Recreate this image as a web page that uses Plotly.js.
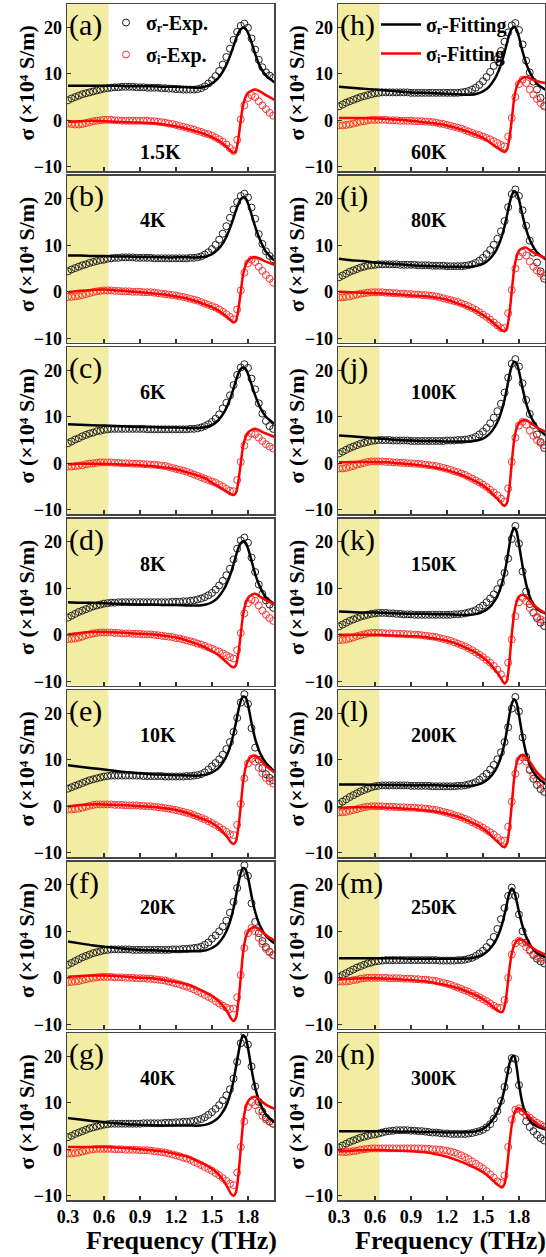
<!DOCTYPE html>
<html><head><meta charset="utf-8">
<script src="https://cdn.plot.ly/plotly-3.0.1.min.js"></script>
<style>html,body{margin:0;padding:0;background:#fff}#chart{width:546px;height:1257px}</style>
</head><body><div id="chart"></div>
<script>
// ---------- data ----------
const freqExp = [0.30,0.33,0.36,0.39,0.42,0.45,0.48,0.51,0.54,0.57,0.60,0.63,0.66,0.69,0.72,0.75,0.78,0.81,0.84,0.87,0.90,0.93,0.96,0.99,1.02,1.05,1.08,1.11,1.14,1.17,1.20,1.23,1.26,1.29,1.32,1.35,1.38,1.41,1.44,1.47,1.50,1.53,1.56,1.59,1.62,1.65,1.68,1.71,1.74,1.77,1.80,1.83,1.86,1.89,1.92,1.95,1.98,2.01];
const freqFit = [0.30,0.40,0.50,0.60,0.70,0.80,0.90,1.00,1.10,1.20,1.30,1.40,1.45,1.50,1.55,1.60,1.63,1.66,1.68,1.70,1.72,1.74,1.76,1.78,1.80,1.83,1.86,1.90,1.95,2.02];
const panelLetters = ['(a)','(b)','(c)','(d)','(e)','(f)','(g)','(h)','(i)','(j)','(k)','(l)','(m)','(n)'];
const temperatures = ['1.5K','4K','6K','8K','10K','20K','40K','60K','80K','100K','150K','200K','250K','300K'];
const xTickVals = [0.3,0.6,0.9,1.2,1.5,1.8];
const yTickVals = [-10,0,10,20];
const legendNames = ['σᵣ-Exp.','σᵢ-Exp.','σᵣ-Fitting','σᵢ-Fitting'];
const yTitleText = 'σ (×10⁴ S/m)';
const xTitleText = 'Frequency (THz)';

// (a) 1.5K
const srExpA = [4.3,4.7,5.0,5.3,5.6,5.8,6.0,6.2,6.4,6.6,6.8,6.9,7.0,7.1,7.1,7.2,7.2,7.2,7.2,7.1,7.1,7.1,7.0,7.0,7.0,7.0,6.9,6.9,6.8,6.8,6.7,6.7,6.6,6.6,6.6,6.6,6.7,6.9,7.3,7.9,8.6,9.5,10.6,12.0,13.6,15.4,17.3,19.0,20.3,20.8,19.9,17.6,15.2,13.0,11.4,10.3,9.6,9.1];
const srFitA = [7.4,7.4,7.4,7.4,7.4,7.3,7.3,7.3,7.2,7.2,7.1,7.0,7.3,7.9,9.0,10.9,12.5,14.5,16.0,17.5,18.8,19.6,19.9,19.7,18.8,16.7,14.3,11.6,9.6,8.2];
const siExpA = [-0.7,-0.8,-0.9,-0.9,-0.8,-0.6,-0.4,-0.2,-0.1,0.0,0.1,0.1,0.1,0.0,0.0,-0.1,-0.1,-0.1,-0.1,-0.1,-0.1,-0.1,-0.1,-0.2,-0.2,-0.3,-0.4,-0.5,-0.7,-0.8,-1.0,-1.2,-1.4,-1.6,-1.8,-2.0,-2.3,-2.5,-2.8,-3.0,-3.3,-3.7,-4.1,-4.6,-5.2,-6.0,-6.6,-4.2,0.2,3.2,4.8,5.4,5.0,4.1,3.2,2.4,1.6,1.0];
const siFitA = [-0.3,-0.2,-0.1,-0.2,-0.3,-0.4,-0.5,-0.6,-0.9,-1.3,-1.9,-2.6,-3.1,-3.6,-4.3,-5.2,-5.9,-6.7,-7.0,-6.5,-4.0,0.0,3.3,5.0,5.9,6.4,6.6,6.2,5.4,4.4];
// (b) 4K
const srExpB = [4.4,4.8,5.1,5.4,5.7,5.9,6.2,6.4,6.6,6.8,6.9,7.1,7.2,7.3,7.3,7.4,7.4,7.4,7.4,7.3,7.3,7.3,7.3,7.3,7.2,7.2,7.2,7.2,7.2,7.2,7.2,7.2,7.2,7.2,7.3,7.3,7.4,7.6,8.0,8.5,9.2,10.1,11.2,12.5,14.1,15.9,17.7,19.3,20.6,21.1,20.3,18.1,15.7,12.4,10.3,8.7,7.7,7.0];
const srFitB = [7.8,7.8,7.7,7.7,7.6,7.6,7.5,7.5,7.4,7.4,7.4,7.4,7.6,8.1,9.1,10.8,12.4,14.4,15.9,17.5,18.9,19.9,20.3,20.1,19.0,16.6,14.0,11.2,8.6,6.7];
const siExpB = [-1.1,-1.1,-1.0,-0.9,-0.7,-0.5,-0.3,-0.1,0.1,0.2,0.3,0.3,0.3,0.2,0.2,0.1,0.1,0.1,0.0,0.0,0.0,-0.1,-0.1,-0.1,-0.2,-0.3,-0.4,-0.5,-0.6,-0.7,-0.8,-1.0,-1.1,-1.3,-1.5,-1.7,-1.9,-2.2,-2.5,-2.8,-3.1,-3.4,-3.8,-4.3,-4.8,-5.4,-5.9,-3.8,0.3,4.1,6.1,6.9,6.4,5.4,4.5,3.6,2.8,2.0];
const siFitB = [-0.1,0.2,0.4,0.5,0.3,0.1,-0.1,-0.3,-0.6,-1.0,-1.5,-2.3,-2.8,-3.3,-4.0,-4.9,-5.5,-6.2,-6.6,-6.2,-3.8,0.0,3.7,5.7,6.7,7.3,7.5,7.1,6.5,5.8];
// (c) 6K
const srExpC = [4.3,4.7,5.1,5.4,5.8,6.1,6.4,6.6,6.9,7.0,7.2,7.3,7.4,7.4,7.4,7.4,7.4,7.4,7.4,7.4,7.4,7.4,7.3,7.3,7.3,7.3,7.3,7.3,7.3,7.3,7.3,7.3,7.3,7.3,7.4,7.4,7.5,7.7,8.0,8.4,8.9,9.6,10.5,11.8,13.0,14.6,16.8,19.0,20.6,21.3,20.5,18.2,15.9,12.9,10.7,9.1,8.0,7.4];
const srFitC = [8.4,8.3,8.2,8.1,8.0,7.9,7.8,7.8,7.7,7.7,7.6,7.6,7.8,8.2,9.2,10.9,12.5,14.5,16.1,17.8,19.3,20.3,20.6,20.3,19.2,16.9,14.6,12.1,10.0,8.5];
const siExpC = [-0.7,-0.7,-0.6,-0.5,-0.4,-0.2,-0.1,0.0,0.1,0.2,0.2,0.2,0.2,0.1,0.1,0.0,0.0,0.0,-0.1,-0.1,-0.1,-0.2,-0.2,-0.3,-0.3,-0.4,-0.5,-0.6,-0.8,-1.0,-1.2,-1.4,-1.6,-1.8,-2.1,-2.4,-2.7,-3.0,-3.3,-3.6,-3.9,-4.2,-4.6,-5.0,-5.5,-5.9,-6.0,-3.6,0.3,3.8,5.7,6.4,6.2,5.5,4.8,4.1,3.6,3.2];
const siFitC = [-0.2,-0.1,-0.1,-0.1,-0.2,-0.3,-0.4,-0.6,-0.9,-1.3,-2.0,-2.8,-3.3,-4.2,-4.9,-5.7,-6.2,-6.7,-6.8,-6.3,-3.9,0.0,3.7,5.6,6.6,7.2,7.4,7.0,6.4,5.7];
// (d) 8K
const srExpD = [3.7,4.1,4.5,4.9,5.2,5.5,5.8,6.1,6.3,6.5,6.7,6.8,6.9,6.9,7.0,7.0,7.0,7.0,7.0,7.0,7.0,7.0,7.0,7.0,7.0,7.0,7.0,7.0,7.0,7.1,7.1,7.1,7.2,7.2,7.3,7.4,7.6,7.8,8.1,8.5,9.0,9.7,10.6,11.6,12.8,14.2,16.2,18.5,20.3,20.9,19.8,16.6,13.5,10.8,8.8,7.4,6.5,5.8];
const srFitD = [7.0,6.9,6.9,6.8,6.7,6.6,6.5,6.5,6.4,6.4,6.3,6.3,6.5,7.0,8.0,9.8,11.4,13.5,15.2,17.0,18.6,19.7,20.1,19.8,18.6,15.9,13.1,10.3,8.0,6.6];
const siExpD = [-0.9,-0.9,-0.8,-0.6,-0.4,-0.1,0.1,0.3,0.4,0.5,0.5,0.5,0.5,0.4,0.4,0.3,0.3,0.3,0.2,0.2,0.2,0.1,0.1,0.1,0.0,-0.1,-0.2,-0.3,-0.4,-0.5,-0.7,-0.8,-1.0,-1.2,-1.4,-1.6,-1.9,-2.1,-2.4,-2.7,-3.0,-3.3,-3.6,-4.0,-4.4,-4.8,-5.1,-3.3,0.4,4.6,6.8,7.6,7.3,6.3,5.2,4.3,3.6,3.0];
const siFitD = [0.1,0.4,0.6,0.6,0.5,0.4,0.2,0.1,-0.2,-0.6,-1.3,-2.2,-2.8,-3.5,-4.3,-5.4,-6.1,-6.8,-7.0,-6.5,-4.0,0.1,4.4,6.7,7.9,8.6,8.8,8.2,7.4,6.6];
// (e) 10K
const srExpE = [3.8,4.1,4.4,4.7,5.0,5.3,5.6,5.8,6.0,6.2,6.4,6.5,6.6,6.6,6.6,6.6,6.6,6.6,6.6,6.6,6.6,6.5,6.5,6.5,6.5,6.5,6.5,6.4,6.4,6.4,6.4,6.4,6.4,6.5,6.5,6.6,6.7,6.9,7.3,7.9,8.6,9.3,10.1,11.1,12.3,13.8,16.0,19.0,22.3,24.1,22.0,16.8,12.6,10.0,8.2,6.9,6.1,5.6];
const srFitE = [8.8,8.5,8.2,7.9,7.6,7.3,7.1,6.9,6.8,6.7,6.6,6.6,6.8,7.3,8.1,9.8,11.3,13.6,15.6,18.0,20.6,22.6,23.6,23.4,21.8,17.9,14.5,11.5,9.3,7.5];
const siExpE = [-0.7,-0.7,-0.6,-0.5,-0.3,-0.1,0.1,0.3,0.4,0.4,0.4,0.4,0.4,0.3,0.3,0.3,0.2,0.2,0.2,0.2,0.1,0.1,0.0,0.0,-0.1,-0.2,-0.3,-0.4,-0.5,-0.7,-0.8,-1.0,-1.2,-1.4,-1.6,-1.9,-2.2,-2.5,-2.8,-3.2,-3.6,-4.0,-4.5,-5.0,-5.5,-6.0,-6.2,-4.0,0.5,6.0,9.2,10.2,9.6,8.3,7.1,6.1,5.4,4.9];
const siFitE = [0.0,0.3,0.4,0.4,0.3,0.2,0.0,-0.1,-0.4,-0.8,-1.5,-2.5,-3.0,-3.6,-4.5,-5.8,-6.7,-7.8,-8.1,-7.5,-4.6,0.1,5.3,8.3,9.8,10.7,10.9,10.1,8.7,7.3];
// (f) 20K
const srExpF = [2.8,3.2,3.6,4.0,4.4,4.7,5.0,5.3,5.5,5.7,5.9,6.0,6.1,6.1,6.1,6.1,6.1,6.1,6.0,6.0,6.0,6.0,6.0,6.0,6.0,6.0,6.0,6.0,6.0,6.1,6.1,6.1,6.2,6.2,6.3,6.4,6.5,6.7,7.1,7.6,8.4,9.1,10.0,11.0,12.3,14.0,16.3,19.3,22.5,24.2,21.9,16.0,12.0,9.6,7.9,6.6,5.6,4.9];
const srFitF = [7.8,7.4,7.0,6.7,6.4,6.2,6.0,5.9,5.8,5.7,5.7,5.7,5.9,6.4,7.3,9.0,10.6,12.9,15.0,17.6,20.3,22.5,23.6,23.3,21.6,17.6,14.2,11.2,9.0,7.4];
const siExpF = [-0.9,-0.9,-0.8,-0.7,-0.5,-0.3,-0.1,0.0,0.1,0.2,0.2,0.2,0.2,0.1,0.1,0.1,0.0,0.0,0.0,-0.1,-0.1,-0.1,-0.2,-0.2,-0.3,-0.4,-0.5,-0.6,-0.8,-1.0,-1.2,-1.4,-1.7,-1.9,-2.2,-2.5,-2.9,-3.3,-3.7,-4.1,-4.5,-5.0,-5.5,-6.0,-6.4,-6.7,-6.6,-4.2,0.6,6.4,9.6,10.7,10.0,8.6,7.3,6.2,5.5,4.9];
const siFitF = [0.2,0.4,0.5,0.5,0.4,0.2,0.0,-0.1,-0.5,-0.9,-1.5,-2.6,-3.2,-3.9,-4.9,-6.3,-7.4,-8.8,-9.3,-8.6,-5.2,0.1,5.5,8.5,9.9,10.7,10.9,10.3,9.2,8.0];
// (g) 40K
const srExpG = [2.6,2.9,3.3,3.6,3.9,4.2,4.5,4.7,4.9,5.1,5.3,5.4,5.5,5.5,5.5,5.5,5.5,5.5,5.5,5.5,5.5,5.6,5.6,5.6,5.6,5.6,5.6,5.7,5.7,5.7,5.8,5.8,5.9,5.9,6.0,6.1,6.3,6.5,6.9,7.4,8.0,8.7,9.5,10.5,11.6,12.9,15.2,18.8,22.8,24.8,22.5,17.8,13.5,10.2,8.1,6.8,6.0,5.5];
const srFitG = [6.7,6.4,6.1,5.8,5.6,5.4,5.3,5.2,5.1,5.1,5.1,5.1,5.3,5.8,6.7,8.4,10.1,12.6,14.8,17.7,20.6,23.2,24.5,24.0,21.8,17.2,13.3,9.9,7.5,5.8];
const siExpG = [-0.9,-0.9,-0.8,-0.7,-0.5,-0.3,-0.1,0.0,0.1,0.1,0.1,0.1,0.1,0.0,0.0,0.0,-0.1,-0.1,-0.1,-0.1,-0.2,-0.2,-0.2,-0.3,-0.4,-0.5,-0.6,-0.7,-0.9,-1.1,-1.3,-1.5,-1.8,-2.0,-2.3,-2.7,-3.0,-3.4,-3.8,-4.2,-4.6,-5.1,-5.6,-6.2,-6.8,-7.4,-7.7,-5.0,0.5,6.0,9.1,10.1,9.5,8.3,7.2,6.4,5.9,5.5];
const siFitG = [0.5,0.5,0.5,0.5,0.4,0.2,0.0,-0.2,-0.5,-1.0,-1.6,-2.8,-3.4,-4.2,-5.3,-6.9,-8.2,-9.6,-10.0,-9.2,-5.6,0.1,5.7,8.9,10.3,11.1,11.3,10.6,9.6,8.7];
// (h) 60K
const srExpH = [3.0,3.4,3.8,4.1,4.4,4.7,5.0,5.2,5.4,5.6,5.8,5.9,6.0,6.0,6.0,6.0,6.0,6.0,6.0,6.0,5.9,5.9,5.9,5.9,5.9,5.9,5.9,5.9,5.9,5.9,5.9,5.9,5.9,5.9,6.0,6.1,6.3,6.6,7.0,7.6,8.4,9.3,10.4,11.7,13.2,14.9,16.9,18.9,20.4,20.9,19.4,16.3,12.8,10.3,8.3,6.6,4.8,3.1];
const srFitH = [7.2,7.0,6.8,6.6,6.4,6.2,6.0,5.9,5.8,5.7,5.6,5.5,5.7,6.2,7.2,9.0,10.6,12.8,14.6,16.6,18.5,19.7,20.1,19.5,17.9,14.8,12.2,9.8,7.9,6.6];
const siExpH = [-1.1,-1.1,-1.0,-0.9,-0.7,-0.5,-0.3,-0.2,0.0,0.1,0.1,0.1,0.1,0.1,0.0,0.0,0.0,-0.1,-0.1,-0.1,-0.1,-0.2,-0.2,-0.2,-0.3,-0.3,-0.4,-0.5,-0.7,-0.8,-1.0,-1.2,-1.4,-1.6,-1.8,-2.1,-2.4,-2.7,-3.0,-3.2,-3.5,-3.8,-4.1,-4.5,-4.9,-5.3,-5.6,-3.5,0.5,5.0,7.8,8.7,8.0,6.6,5.5,4.6,3.7,3.0];
const siFitH = [0.5,0.5,0.5,0.4,0.3,0.1,-0.1,-0.4,-0.7,-1.1,-1.8,-2.7,-3.2,-3.8,-4.6,-5.6,-6.1,-6.6,-6.8,-6.3,-3.9,0.1,4.7,7.1,8.3,9.1,9.3,8.9,8.4,8.0];
// (i) 80K
const srExpI = [3.1,3.5,3.9,4.3,4.6,4.9,5.2,5.4,5.6,5.7,5.8,5.9,5.9,5.9,5.9,5.9,5.9,5.8,5.8,5.8,5.8,5.8,5.7,5.7,5.7,5.7,5.6,5.6,5.6,5.6,5.5,5.5,5.5,5.5,5.5,5.6,5.7,5.9,6.2,6.7,7.3,8.1,9.0,10.1,11.4,13.0,15.2,18.2,21.0,22.0,20.6,17.5,14.2,11.0,8.4,6.3,4.4,2.8];
const srFitI = [7.1,6.8,6.6,6.3,6.1,5.9,5.7,5.6,5.5,5.4,5.4,5.4,5.6,6.0,6.9,8.5,10.0,12.2,14.1,16.4,18.8,20.7,21.6,21.3,19.8,16.4,13.4,10.6,8.5,7.0];
const siExpI = [-1.2,-1.2,-1.1,-1.0,-0.8,-0.6,-0.4,-0.3,-0.2,-0.1,-0.1,-0.1,-0.1,-0.2,-0.2,-0.3,-0.3,-0.4,-0.4,-0.5,-0.5,-0.6,-0.6,-0.7,-0.7,-0.8,-0.9,-1.0,-1.2,-1.4,-1.6,-1.8,-2.0,-2.2,-2.5,-2.8,-3.1,-3.5,-3.9,-4.4,-4.9,-5.4,-6.0,-6.6,-7.2,-7.8,-7.8,-4.6,0.4,5.0,7.6,8.4,7.8,6.5,5.4,4.6,3.9,3.4];
const siFitI = [0.0,-0.1,-0.2,-0.3,-0.4,-0.6,-0.8,-0.9,-1.2,-1.7,-2.6,-3.6,-4.2,-5.0,-5.9,-7.0,-7.7,-8.3,-8.5,-7.8,-4.8,0.1,4.9,7.5,8.8,9.4,9.5,8.8,8.0,7.3];
// (j) 100K
const srExpJ = [2.1,2.5,2.9,3.3,3.6,3.9,4.2,4.4,4.6,4.8,4.9,5.0,5.0,5.0,5.0,4.9,4.9,4.9,4.9,4.9,4.8,4.8,4.8,4.8,4.8,4.8,4.8,4.8,4.8,4.8,4.9,4.9,4.9,5.0,5.0,5.1,5.2,5.4,5.7,6.2,6.8,7.6,8.6,9.8,11.2,12.8,15.2,18.4,21.4,22.4,20.8,17.2,13.6,10.6,8.2,6.2,4.6,3.3];
const srFitJ = [6.0,5.8,5.6,5.4,5.2,5.0,4.9,4.8,4.8,4.7,4.7,4.7,4.9,5.3,6.2,7.9,9.4,11.7,13.7,16.2,18.8,20.9,21.8,21.5,19.8,16.1,12.9,10.0,7.8,6.0];
const siExpJ = [-1.1,-1.1,-1.0,-0.8,-0.6,-0.3,-0.1,0.1,0.3,0.4,0.4,0.4,0.4,0.3,0.3,0.2,0.2,0.1,0.1,0.0,0.0,-0.1,-0.1,-0.2,-0.3,-0.4,-0.5,-0.6,-0.8,-1.0,-1.2,-1.4,-1.7,-1.9,-2.2,-2.5,-2.9,-3.3,-3.7,-4.1,-4.6,-5.1,-5.7,-6.3,-6.9,-7.6,-8.2,-5.4,0.3,5.5,8.1,8.9,8.3,7.0,5.9,5.0,4.4,3.9];
const siFitJ = [0.2,0.3,0.3,0.3,0.2,0.0,-0.2,-0.5,-0.9,-1.5,-2.3,-3.4,-4.0,-4.8,-5.8,-7.1,-7.9,-8.8,-9.2,-8.5,-5.4,0.1,5.0,7.5,8.6,9.2,9.3,8.6,7.7,6.8];
// (k) 150K
const srExpK = [1.8,2.2,2.6,3.0,3.3,3.6,3.9,4.1,4.3,4.5,4.6,4.7,4.7,4.7,4.6,4.6,4.5,4.5,4.4,4.4,4.4,4.3,4.3,4.3,4.3,4.3,4.3,4.3,4.3,4.3,4.3,4.3,4.4,4.4,4.5,4.6,4.8,5.0,5.3,5.8,6.3,7.0,7.8,8.7,9.8,11.2,13.3,16.4,20.6,23.4,19.6,13.6,9.3,6.6,4.8,3.6,2.6,1.9];
const srFitK = [5.0,4.9,4.8,4.8,4.7,4.6,4.5,4.5,4.4,4.4,4.3,4.3,4.5,5.0,5.8,7.4,8.9,11.2,13.3,16.0,19.2,21.9,23.0,22.2,19.4,14.8,10.9,7.5,5.6,4.6];
const siExpK = [-1.1,-1.1,-1.0,-0.8,-0.6,-0.3,-0.1,0.1,0.3,0.4,0.4,0.4,0.4,0.3,0.3,0.3,0.2,0.2,0.2,0.1,0.1,0.0,0.0,-0.1,-0.2,-0.3,-0.4,-0.5,-0.7,-0.9,-1.1,-1.3,-1.6,-1.9,-2.2,-2.5,-2.9,-3.3,-3.8,-4.3,-4.8,-5.4,-6.0,-6.7,-7.5,-8.5,-9.6,-6.0,-1.0,4.0,7.0,7.9,7.2,5.8,4.7,3.9,3.3,2.9];
const siFitK = [0.0,0.0,0.0,0.0,-0.1,-0.2,-0.3,-0.4,-0.8,-1.3,-2.1,-3.3,-4.0,-4.9,-6.0,-7.5,-8.5,-9.8,-10.5,-9.8,-5.9,0.0,4.6,7.0,8.2,8.6,8.2,7.0,5.8,4.6];
// (l) 200K
const srExpL = [0.5,1.0,1.5,2.0,2.4,2.8,3.2,3.5,3.8,4.1,4.3,4.4,4.5,4.5,4.5,4.5,4.5,4.5,4.5,4.5,4.4,4.4,4.4,4.4,4.4,4.4,4.3,4.3,4.3,4.3,4.3,4.3,4.3,4.4,4.4,4.5,4.7,4.9,5.2,5.7,6.3,7.0,7.9,8.9,10.1,11.6,13.8,17.0,21.0,23.5,20.4,14.8,10.6,7.8,5.9,4.6,3.7,3.1];
const srFitL = [4.7,4.7,4.7,4.6,4.6,4.6,4.5,4.5,4.5,4.4,4.4,4.4,4.6,5.1,6.0,7.6,9.2,11.5,13.6,16.4,19.5,22.0,23.0,22.2,19.6,15.0,11.4,8.3,6.3,4.8];
const siExpL = [-1.3,-1.3,-1.2,-1.0,-0.8,-0.6,-0.4,-0.2,-0.1,0.0,0.0,0.0,0.0,-0.1,-0.1,-0.1,-0.2,-0.2,-0.2,-0.3,-0.3,-0.3,-0.4,-0.4,-0.5,-0.6,-0.7,-0.8,-1.0,-1.2,-1.4,-1.6,-1.9,-2.1,-2.4,-2.7,-3.0,-3.4,-3.8,-4.2,-4.6,-5.1,-5.6,-6.1,-6.7,-7.3,-7.4,-4.4,1.0,7.0,9.8,10.5,9.6,8.0,6.7,5.7,4.8,4.1];
const siFitL = [-0.3,-0.2,-0.2,-0.2,-0.3,-0.4,-0.6,-0.8,-1.1,-1.6,-2.3,-3.4,-4.0,-4.8,-5.8,-7.1,-7.8,-8.6,-8.8,-8.0,-4.8,0.3,6.0,9.2,10.6,11.0,10.6,9.2,7.3,5.5];
// (m) 250K
const srExpM = [0.2,0.6,1.0,1.4,1.8,2.2,2.5,2.8,3.1,3.3,3.5,3.6,3.7,3.8,3.8,3.8,3.8,3.8,3.8,3.8,3.8,3.8,3.8,3.8,3.8,3.8,3.8,3.8,3.7,3.7,3.7,3.7,3.7,3.8,3.8,3.9,4.1,4.3,4.7,5.2,5.8,6.6,7.6,8.8,10.5,12.6,15.0,17.6,19.4,17.6,13.6,10.0,7.6,6.0,4.9,4.1,3.5,3.1];
const srFitM = [4.2,4.2,4.2,4.2,4.2,4.2,4.1,4.1,4.1,4.1,4.1,4.2,4.5,5.0,6.0,7.7,9.3,11.6,13.6,16.0,18.2,19.2,18.5,16.6,14.2,11.1,8.8,6.8,5.4,4.4];
const siExpM = [-0.8,-0.8,-0.8,-0.7,-0.5,-0.4,-0.2,-0.1,0.0,0.0,0.0,0.0,0.0,0.0,-0.1,-0.1,-0.1,-0.1,-0.2,-0.2,-0.2,-0.3,-0.3,-0.4,-0.4,-0.5,-0.6,-0.7,-0.9,-1.1,-1.3,-1.5,-1.8,-2.1,-2.4,-2.7,-3.0,-3.4,-3.8,-4.2,-4.6,-5.0,-5.5,-6.0,-6.4,-6.5,-4.8,0.0,5.0,7.4,8.0,7.5,6.6,5.8,5.1,4.6,4.3,4.0];
const siFitM = [-0.3,-0.2,-0.1,-0.1,-0.2,-0.3,-0.5,-0.7,-1.1,-1.6,-2.3,-3.3,-3.9,-4.6,-5.5,-6.6,-7.2,-7.4,-6.2,-2.8,1.8,5.2,7.0,7.9,8.3,8.1,7.5,6.7,5.8,5.0];
// (n) 300K
const srExpN = [0.4,0.8,1.2,1.6,1.9,2.2,2.5,2.7,2.9,3.1,3.2,3.4,3.6,3.8,3.9,4.0,4.1,4.1,4.1,4.1,4.0,4.0,3.9,3.9,3.8,3.7,3.6,3.6,3.5,3.4,3.4,3.3,3.3,3.3,3.3,3.3,3.4,3.5,3.7,3.9,4.2,4.7,5.4,6.6,8.2,10.4,13.4,17.0,19.6,19.4,13.8,8.1,6.0,4.8,3.9,3.1,2.4,1.9];
const srFitN = [3.9,3.9,3.9,3.9,3.9,3.8,3.8,3.7,3.7,3.6,3.6,3.7,3.9,4.4,5.4,7.1,8.6,10.9,13.0,15.6,18.3,19.8,20.1,17.8,14.0,9.8,7.6,5.9,4.9,4.3];
const siExpN = [-0.5,-0.6,-0.6,-0.5,-0.4,-0.3,-0.1,0.0,0.1,0.2,0.2,0.2,0.2,0.2,0.2,0.2,0.2,0.2,0.2,0.2,0.2,0.2,0.2,0.2,0.1,0.1,0.0,0.0,-0.1,-0.2,-0.3,-0.5,-0.7,-1.0,-1.3,-1.7,-2.1,-2.6,-3.1,-3.6,-4.1,-4.7,-5.4,-6.1,-6.9,-7.2,-5.6,0.5,6.4,8.5,8.8,8.1,7.4,6.8,6.2,5.7,5.3,4.9];
const siFitN = [-0.5,-0.3,-0.2,-0.1,-0.2,-0.3,-0.4,-0.6,-1.0,-1.6,-2.5,-3.6,-4.2,-4.9,-5.9,-7.1,-7.8,-8.2,-7.4,-4.0,1.0,5.2,7.6,8.6,8.8,8.3,7.6,6.6,5.5,4.5];

const srExpAll = [srExpA,srExpB,srExpC,srExpD,srExpE,srExpF,srExpG,srExpH,srExpI,srExpJ,srExpK,srExpL,srExpM,srExpN];
const srFitAll = [srFitA,srFitB,srFitC,srFitD,srFitE,srFitF,srFitG,srFitH,srFitI,srFitJ,srFitK,srFitL,srFitM,srFitN];
const siExpAll = [siExpA,siExpB,siExpC,siExpD,siExpE,siExpF,siExpG,siExpH,siExpI,siExpJ,siExpK,siExpL,siExpM,siExpN];
const siFitAll = [siFitA,siFitB,siFitC,siFitD,siFitE,siFitF,siFitG,siFitH,siFitI,siFitJ,siFitK,siFitL,siFitM,siFitN];

for (let k = 0; k < 14; k++) {
  if (srExpAll[k].length !== freqExp.length || siExpAll[k].length !== freqExp.length)
    throw new Error('exp length mismatch panel ' + k);
  if (srFitAll[k].length !== freqFit.length || siFitAll[k].length !== freqFit.length)
    throw new Error('fit length mismatch panel ' + k);
}

// ---------- figure ----------
const W = 546, H = 1257;
const SERIF = 'Liberation Serif, Times New Roman, serif';
const colX = [[67, 274], [338, 545]];
const panelH = 167, rowStep = 171.5, topOffset = 4;
const traces = [], shapes = [], annotations = [];
const legendFont = {family: SERIF, size: 20, weight: 'bold', color: '#000'};
const layout = {
  width: W, height: H, margin: {l: 0, r: 0, t: 0, b: 0},
  paper_bgcolor: '#ffffff', plot_bgcolor: 'rgba(0,0,0,0)',
  font: {family: SERIF, size: 18, color: '#000'},
  showlegend: true,
  legend: {x: 106 / W, y: 1 - 3 / H, xanchor: 'left', yanchor: 'top', bgcolor: 'rgba(0,0,0,0)',
           font: legendFont, traceorder: 'grouped', tracegroupgap: 3, itemwidth: 30},
  legend2: {x: 376 / W, y: 1 - 5 / H, xanchor: 'left', yanchor: 'top', bgcolor: 'rgba(0,0,0,0)',
            font: legendFont, traceorder: 'grouped', tracegroupgap: 0, itemwidth: 40}
};

for (let k = 0; k < 14; k++) {
  const col = k < 7 ? 0 : 1, row = k % 7, n = k + 1;
  const sfx = n === 1 ? '' : String(n);
  const top = topOffset + rowStep * row, bot = top + panelH;
  layout['xaxis' + sfx] = {
    domain: [colX[col][0] / W, colX[col][1] / W], range: [0.292, 2.017], anchor: 'y' + sfx,
    tickvals: xTickVals, tickformat: '.1f', ticks: 'inside', ticklen: 4, tickwidth: 1.2, tickcolor: '#333',
    showline: true, linecolor: '#444', linewidth: 1.5, mirror: true, showgrid: false, zeroline: false,
    showticklabels: row === 6, tickfont: {family: SERIF, size: 18, weight: 'bold', color: '#000'}
  };
  layout['yaxis' + sfx] = {
    domain: [1 - bot / H, 1 - top / H], range: [-10.9, 25], anchor: 'x' + sfx,
    tickvals: yTickVals, ticks: 'inside', ticklen: 4, tickwidth: 1.2, tickcolor: '#333',
    showline: true, linecolor: '#444', linewidth: 1.5, mirror: true, showgrid: false, zeroline: false,
    tickfont: {family: SERIF, size: 18, weight: 'bold', color: '#000'}
  };
  const xa = 'x' + sfx, ya = 'y' + sfx;
  shapes.push({type: 'rect', xref: xa, yref: ya + ' domain', x0: 0.292, x1: 0.637, y0: 0, y1: 1,
               fillcolor: '#f3eda3', line: {width: 0}, layer: 'below'});
  const isExpLegend = k === 0, isFitLegend = k === 7;
  traces.push({type: 'scatter', mode: 'markers', x: freqExp, y: srExpAll[k], xaxis: xa, yaxis: ya,
    name: legendNames[0], legend: 'legend', legendgroup: 'er', showlegend: isExpLegend,
    marker: {symbol: 'circle-open', size: 7, color: '#222', line: {width: 1, color: '#222'}}});
  traces.push({type: 'scatter', mode: 'markers', x: freqExp, y: siExpAll[k], xaxis: xa, yaxis: ya,
    name: legendNames[1], legend: 'legend', legendgroup: 'ei', showlegend: isExpLegend,
    marker: {symbol: 'circle-open', size: 7, color: '#ff3333', line: {width: 1, color: '#ff3333'}}});
  traces.push({type: 'scatter', mode: 'lines', x: freqFit, y: srFitAll[k], xaxis: xa, yaxis: ya,
    name: legendNames[2], legend: 'legend2', legendgroup: 'fr', showlegend: isFitLegend,
    line: {color: '#000', width: 2.5, shape: 'spline', smoothing: 0.8}});
  traces.push({type: 'scatter', mode: 'lines', x: freqFit, y: siFitAll[k], xaxis: xa, yaxis: ya,
    name: legendNames[3], legend: 'legend2', legendgroup: 'fi', showlegend: isFitLegend,
    line: {color: '#ff0000', width: 2.5, shape: 'spline', smoothing: 0.8}});

  annotations.push({xref: xa + ' domain', yref: ya + ' domain', x: 0.0, y: 1 - 21 / panelH,
    xanchor: 'left', yanchor: 'middle', showarrow: false, text: panelLetters[k],
    font: {family: SERIF, size: 30, color: '#000'}});
  const tempY = (k === 0 || k === 7) ? 1 - 148 / panelH : 1 - 45 / panelH;
  annotations.push({xref: xa + ' domain', yref: ya + ' domain', x: 0.345, y: tempY,
    xanchor: 'left', yanchor: 'middle', showarrow: false, text: temperatures[k],
    font: {family: SERIF, size: 20, weight: 'bold', color: '#000'}});
  const titleX = col === 0 ? 26 : 296;
  annotations.push({xref: 'paper', yref: 'paper', x: titleX / W, y: 1 - (top + panelH / 2 - 4) / H,
    xanchor: 'center', yanchor: 'middle', showarrow: false, textangle: -90,
    text: yTitleText, font: {family: SERIF, size: 22, weight: 'bold', color: '#000'}});
}
annotations.push({xref: 'paper', yref: 'paper', x: 181 / W, y: 1 - 1240 / H, xanchor: 'center', yanchor: 'middle',
  showarrow: false, text: xTitleText, font: {family: SERIF, size: 26, weight: 'bold', color: '#000'}});
annotations.push({xref: 'paper', yref: 'paper', x: 450 / W, y: 1 - 1240 / H, xanchor: 'center', yanchor: 'middle',
  showarrow: false, text: xTitleText, font: {family: SERIF, size: 26, weight: 'bold', color: '#000'}});

layout.shapes = shapes;
layout.annotations = annotations;
Plotly.newPlot('chart', traces, layout, {staticPlot: true, displayModeBar: false});
</script>
</body></html>
